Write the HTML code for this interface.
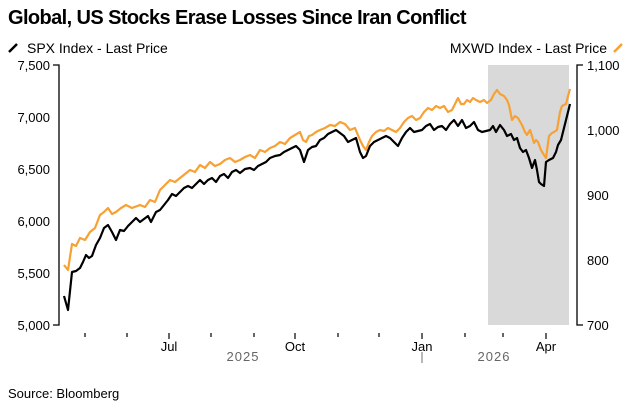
<!DOCTYPE html>
<html><head><meta charset="utf-8"><style>
body{margin:0;background:#fff;}
svg{display:block;font-family:"Liberation Sans",sans-serif;}
</style></head><body>
<svg width="626" height="407" viewBox="0 0 626 407">
<text x="8" y="24" font-size="20" font-weight="bold" fill="#000" letter-spacing="-0.6">Global, US Stocks Erase Losses Since Iran Conflict</text>
<line x1="9" y1="52" x2="17" y2="44" stroke="#000" stroke-width="2.5"/>
<text x="27" y="53" font-size="14" fill="#000">SPX Index - Last Price</text>
<text x="607" y="53" font-size="14" fill="#000" text-anchor="end">MXWD Index - Last Price</text>
<line x1="614" y1="52" x2="622" y2="44" stroke="#f7a134" stroke-width="2.5"/>
<rect x="488" y="65" width="81" height="260" fill="#d9d9d9"/>
<g stroke="#000" stroke-width="1.3" fill="none">
<path d="M53 65H59V325H53"/>
<path d="M583 65H577V325H583"/>
</g>
<g stroke="#000" stroke-width="1.2">
<line x1="85" y1="333" x2="85" y2="337"/><line x1="127" y1="333" x2="127" y2="337"/>
<line x1="169" y1="333" x2="169" y2="339"/><line x1="211" y1="333" x2="211" y2="337"/>
<line x1="254" y1="333" x2="254" y2="337"/><line x1="295" y1="333" x2="295" y2="339"/>
<line x1="338" y1="333" x2="338" y2="337"/><line x1="379" y1="333" x2="379" y2="337"/>
<line x1="422" y1="333" x2="422" y2="339"/><line x1="465" y1="333" x2="465" y2="337"/>
<line x1="503" y1="333" x2="503" y2="337"/><line x1="546" y1="333" x2="546" y2="339"/>
</g>
<line x1="422" y1="352" x2="422" y2="363" stroke="#888" stroke-width="1.2"/>
<g font-size="13" fill="#000">
<text x="50" y="70" text-anchor="end">7,500</text>
<text x="50" y="122" text-anchor="end">7,000</text>
<text x="50" y="174" text-anchor="end">6,500</text>
<text x="50" y="226" text-anchor="end">6,000</text>
<text x="50" y="278" text-anchor="end">5,500</text>
<text x="50" y="330" text-anchor="end">5,000</text>
<text x="587" y="70">1,100</text>
<text x="587" y="135">1,000</text>
<text x="587" y="200">900</text>
<text x="587" y="265">800</text>
<text x="587" y="330">700</text>
<text x="169" y="351" text-anchor="middle">Jul</text>
<text x="295" y="351" text-anchor="middle">Oct</text>
<text x="422" y="351" text-anchor="middle">Jan</text>
<text x="546" y="351" text-anchor="middle">Apr</text>
</g>
<g font-size="13" fill="#666" letter-spacing="1">
<text x="243" y="361" text-anchor="middle">2025</text>
<text x="494" y="361" text-anchor="middle">2026</text>
</g>
<text x="8" y="398" font-size="13" fill="#000">Source: Bloomberg</text>
<path fill="none" stroke="#f7a134" stroke-width="2.2" stroke-linejoin="round" d="M64 265L68 270L72 244L76 246L80 238L85 240L90 232L95 228L100 215L104 212L108 208L112 214L116 212L121 208L126 205L132 208L140 205L145 207L150 200L155 202L160 190L165 185L170 180L175 182L180 178L185 174L190 170L195 172L200 165L205 168L210 162L215 166L220 164L225 160L230 158L235 162L240 160L245 157L250 155L255 158L260 150L265 152L270 148L275 146L280 142L285 144L290 138L295 135L300 132L303 140L306 142L309 136L312 135L316 132L320 130L325 128L330 125L335 126L340 122L345 124L350 130L355 128L360 140L363 146L366 150L369 142L372 136L376 132L380 130L384 131L388 128L392 130L396 132L400 128L404 122L408 118L412 116L416 120L420 118L424 112L428 108L432 110L436 106L440 108L444 106L448 112L452 110L455 104L458 98L461 104L464 104L467 100L470 102L473 98L476 100L480 102L484 100L487 103L491 100L494 94L497 90L500 94L504 96L507 100L509 105L512 120L515 116L518 118L522 125L525 132L527 135L530 130L532 136L534 143L536 140L538 142L541 150L544 155L546 158L549 136L552 133L554 132L557 130L560 112L562 106L566 104L568 96L570 89"/>
<path fill="none" stroke="#000" stroke-width="2.2" stroke-linejoin="round" d="M64 296L68 310L72 272L76 271L80 268L83 262L86 255L89 258L92 256L96 245L100 238L104 228L108 225L112 232L116 240L120 230L124 231L128 226L132 222L136 218L140 222L144 219L148 216L151 222L156 212L160 210L164 205L168 200L172 194L176 196L180 192L184 188L188 186L192 188L196 184L200 180L204 184L208 180L212 178L216 182L220 176L224 174L228 178L232 172L236 170L240 173L245 169L250 168L254 170L258 166L262 164L266 162L270 158L275 156L280 155L284 152L288 150L292 148L296 146L300 150L304 162L308 150L312 147L316 146L320 140L324 138L328 134L332 132L336 130L340 133L344 136L348 142L352 140L356 138L360 152L363 158L366 156L370 146L374 142L378 140L382 138L386 136L390 138L394 142L398 146L402 138L406 132L410 128L414 132L418 131L422 130L426 126L430 124L434 130L438 127L442 126L446 130L450 124L454 120L458 126L462 120L466 128L470 126L474 122L478 130L482 132L486 131L490 130L493 126L496 132L500 125L504 130L507 136L511 134L514 140L517 138L520 148L523 152L526 150L529 158L532 168L535 160L537 170L539 182L541 184L544 186L546 162L549 160L553 158L556 152L558 145L561 140L564 128L567 116L570 104"/>
</svg>
</body></html>
